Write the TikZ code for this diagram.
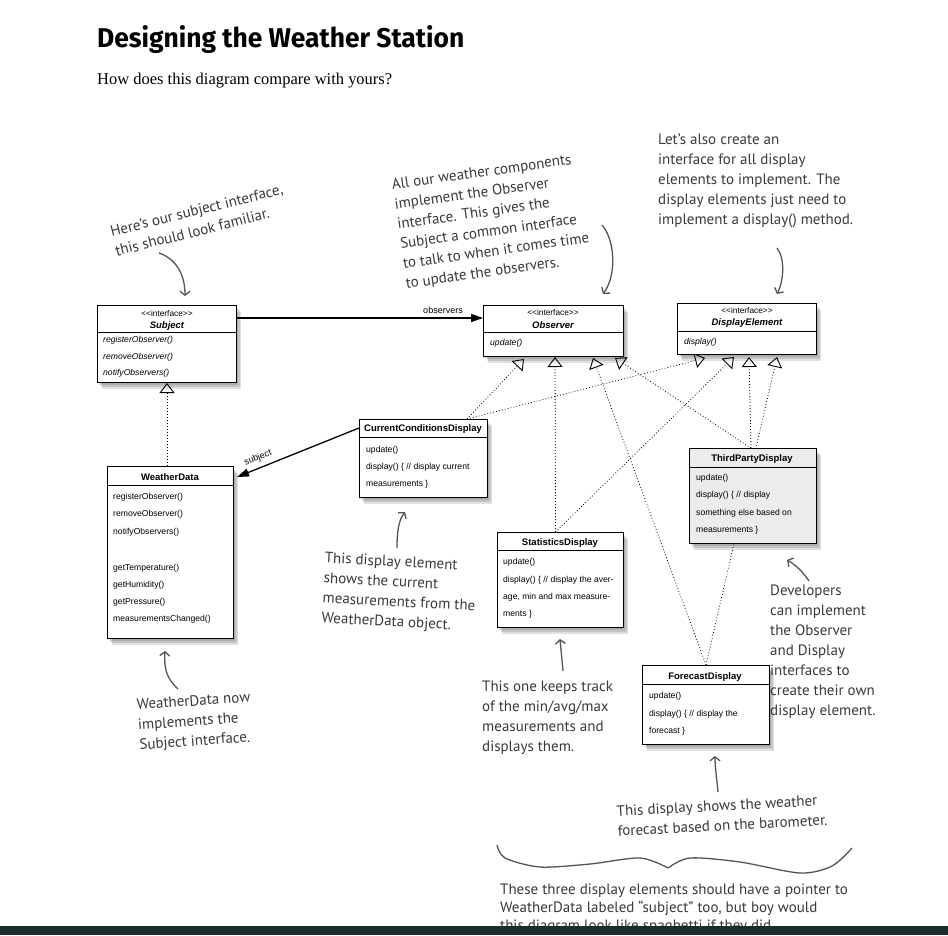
\documentclass[tikz,border=0pt]{standalone}
\usepackage{fontspec}
\usepackage{graphicx}
\setmainfont{Liberation Serif}
\setsansfont{Liberation Sans}
\newfontfamily\hand{PT Sans}
\newfontfamily\titlefont{Fira Sans}
\usetikzlibrary{arrows.meta,shadows,calc}
\definecolor{notegray}{HTML}{3A3A3A}
\definecolor{arrgray}{HTML}{555555}
\definecolor{tpfill}{HTML}{ECECEC}
\definecolor{barcol}{HTML}{1C2B2B}
\pgfdeclarelayer{bg}
\pgfdeclarelayer{lines}
\pgfsetlayers{bg,lines,main}
\begin{document}
\begin{tikzpicture}[x=1pt,y=-1pt,
 cls/.style={draw=black,line width=1pt,fill=white,anchor=north west,inner sep=0pt,
   general shadow={fill=black,opacity=0.12,shadow xshift=1.5pt,shadow yshift=-2pt},
   general shadow={fill=black,opacity=0.12,shadow xshift=3pt,shadow yshift=-4pt},
   general shadow={fill=black,opacity=0.12,shadow xshift=4.5pt,shadow yshift=-6pt}},
 sepline/.style={line width=0.8pt},
 stereo/.style={font=\sffamily\fontsize{8.3}{9}\selectfont,inner sep=0pt},
 iname/.style={font=\sffamily\bfseries\itshape\fontsize{9.5}{11}\selectfont,inner sep=0pt},
 cname/.style={font=\sffamily\bfseries\fontsize{9.5}{11}\selectfont,inner sep=0pt},
 imeth/.style={font=\sffamily\itshape\fontsize{8.6}{10}\selectfont,inner sep=0pt,anchor=west},
 meth/.style={font=\sffamily\fontsize{8.6}{10}\selectfont,inner sep=0pt,anchor=west},
 lbl/.style={font=\sffamily\fontsize{9}{10}\selectfont,inner sep=0pt},
 realize/.style={line width=0.8pt,dash pattern=on 0.8pt off 2.2pt,
   -{Triangle[width=15pt,length=10pt,fill=white,line width=0.9pt]}},
 assoc/.style={line width=1.3pt,-{Triangle[width=8pt,length=12pt]}},
 note/.style={font=\hand\fontsize{15}{20}\selectfont,text=notegray,align=left,inner sep=0pt},
 noteArrow/.style={draw=arrgray,line width=1.3pt,-{Straight Barb[length=4pt,width=10pt,line width=1.3pt]}},
]
\useasboundingbox (0,0) rectangle (948,935);
\begin{pgfonlayer}{bg}
\fill[white] (0,0) rectangle (948,935);
\end{pgfonlayer}

% ---------- title ----------
\node[anchor=base west,inner sep=0pt] (title) at (97,47)
  {\resizebox{367pt}{22pt}{\titlefont\bfseries Designing the Weather Station}};
\node[anchor=base west,inner sep=0pt] (subtitle) at (97,84)
  {\resizebox{295pt}{!}{\rmfamily How does this diagram compare with yours?}};

% ---------- class boxes ----------
\node[cls,minimum width=139pt,minimum height=77pt] (subj) at (97,305) {};
\node[cls,minimum width=140pt,minimum height=51pt] (obs) at (483,305) {};
\node[cls,minimum width=139pt,minimum height=51pt] (disp) at (677,303) {};
\node[cls,minimum width=128pt,minimum height=78pt] (ccd) at (359,419) {};
\node[cls,minimum width=126pt,minimum height=172pt] (wd) at (107,466) {};
\node[cls,minimum width=126pt,minimum height=95pt] (stats) at (497,532) {};
\node[cls,fill=tpfill,minimum width=127pt,minimum height=95pt] (third) at (689,448) {};
\node[cls,minimum width=127pt,minimum height=79pt] (fore) at (642,665) {};

% separators
\draw[sepline] ([yshift=-27pt]subj.north west) -- ([yshift=-27pt]subj.north east);
\draw[sepline] ([yshift=-27pt]obs.north west) -- ([yshift=-27pt]obs.north east);
\draw[sepline] ([yshift=-28pt]disp.north west) -- ([yshift=-28pt]disp.north east);
\draw[sepline] ([yshift=-18pt]ccd.north west) -- ([yshift=-18pt]ccd.north east);
\draw[sepline] ([yshift=-19pt]wd.north west) -- ([yshift=-19pt]wd.north east);
\draw[sepline] ([yshift=-18pt]stats.north west) -- ([yshift=-18pt]stats.north east);
\draw[sepline] ([yshift=-19pt]third.north west) -- ([yshift=-19pt]third.north east);
\draw[sepline] ([yshift=-19pt]fore.north west) -- ([yshift=-19pt]fore.north east);

% Subject
\node[stereo] (subjSt) at (167,314) {<{}<interface>{}>};
\node[iname] (subjName) at (167,326) {Subject};
\node[imeth] (subjM1) at (103,340) {registerObserver()};
\node[imeth] (subjM2) at (103,357) {removeObserver()};
\node[imeth] (subjM3) at (103,373) {notifyObservers()};
% Observer
\node[stereo] (obsSt) at (553,313) {<{}<interface>{}>};
\node[iname] (obsName) at (553,325) {Observer};
\node[imeth] (obsM1) at (490,343) {update()};
% DisplayElement
\node[stereo] (dispSt) at (747,311) {<{}<interface>{}>};
\node[iname] (dispName) at (747,323) {DisplayElement};
\node[imeth] (dispM1) at (684,342) {display()};
% CurrentConditionsDisplay
\node[cname] (ccdName) at (423,429) {CurrentConditionsDisplay};
\node[meth] (ccdM1) at (366,450) {update()};
\node[meth] (ccdM2) at (366,467) {display() \{ // display current};
\node[meth] (ccdM3) at (366,484) {measurements \}};
% WeatherData
\node[cname] (wdName) at (170,477) {WeatherData};
\node[meth] (wdM1) at (113,497) {registerObserver()};
\node[meth] (wdM2) at (113,514) {removeObserver()};
\node[meth] (wdM3) at (113,532) {notifyObservers()};
\node[meth] (wdM4) at (113,568) {getTemperature()};
\node[meth] (wdM5) at (113,585) {getHumidity()};
\node[meth] (wdM6) at (113,602) {getPressure()};
\node[meth] (wdM7) at (113,619) {measurementsChanged()};
% StatisticsDisplay
\node[cname] (statsName) at (560,543) {StatisticsDisplay};
\node[meth] (statsM1) at (503,562) {update()};
\node[meth] (statsM2) at (503,580) {display() \{ // display the aver-};
\node[meth] (statsM3) at (503,597) {age, min and max measure-};
\node[meth] (statsM4) at (503,614) {ments \}};
% ThirdPartyDisplay
\node[cname] (thirdName) at (752,459) {ThirdPartyDisplay};
\node[meth] (thirdM1) at (696,478) {update()};
\node[meth] (thirdM2) at (696,495) {display() \{ // display};
\node[meth] (thirdM3) at (696,513) {something else based on};
\node[meth] (thirdM4) at (696,530) {measurements \}};
% ForecastDisplay
\node[cname] (foreName) at (705,677) {ForecastDisplay};
\node[meth] (foreM1) at (649,696) {update()};
\node[meth] (foreM2) at (649,714) {display() \{ // display the};
\node[meth] (foreM3) at (649,731) {forecast \}};

% ---------- realization connectors (behind boxes) ----------
\coordinate (sT) at (167,383);
\coordinate (oT1) at (524,359);
\coordinate (oT2) at (555,357);
\coordinate (oT3) at (593,358);
\coordinate (oT4) at (615,358);
\coordinate (dT1) at (705,358);
\coordinate (dT2) at (734,357);
\coordinate (dT3) at (749,357);
\coordinate (dT4) at (777,357);
\coordinate (ccdTop) at ([xshift=-21pt]ccd.north east);
\coordinate (statsTop) at ([xshift=-5pt]stats.north);
\coordinate (thirdTop) at ([xshift=-2pt]third.north);
\begin{pgfonlayer}{lines}
\draw[realize] (wd.north -| sT) -- (sT);
\draw[realize] (ccdTop) -- (oT1);
\draw[realize] (ccdTop) -- (dT1);
\draw[realize] (statsTop) -- (oT2);
\draw[realize] (statsTop) -- (dT2);
\draw[realize] (fore.north) -- (oT3);
\draw[realize] (fore.north) -- (dT4);
\draw[realize] (thirdTop) -- (oT4);
\draw[realize] (thirdTop) -- (dT3);
\end{pgfonlayer}

% ---------- associations ----------
\draw[assoc] ([yshift=-13pt]subj.north east) -- ([yshift=-13pt]obs.north west);
\node[lbl] (obsLbl) at (443,310) {observers};
\draw[assoc] ([yshift=-9pt]ccd.north west) -- ([xshift=3pt,yshift=-11pt]wd.north east);
\node[lbl,rotate=22] (subjLbl) at (258,458) {subject};

% ---------- notes ----------
\node[note,rotate=14] (nSubj) at (199,220) {Here’s our subject interface,\\this should look familiar.};
\node[note,rotate=8] (nObs) at (492,222) {All our weather components\\implement the Observer\\interface. This gives the\\Subject a common interface\\to talk to when it comes time\\to update the observers.};
\node[note,anchor=west] (nDisp) at (658,181) {Let’s also create an\\interface for all display\\elements to implement. The\\display elements just need to\\implement a display() method.};
\node[note,anchor=west,rotate=-3] (nCcd) at (323,589) {This display element\\shows the current\\measurements from the\\WeatherData object.};
\node[note,anchor=west,rotate=4] (nWd) at (138,726) {WeatherData now\\implements the\\Subject interface.};
\node[note,anchor=west] (nStats) at (482,718) {This one keeps track\\of the min/avg/max\\measurements and\\displays them.};
\node[note,anchor=west] (nDev) at (770,652) {Developers\\can implement\\the Observer\\and Display\\interfaces to\\create their own\\display element.};
\node[note,anchor=west,rotate=3] (nFore) at (617,821) {This display shows the weather\\forecast based on the barometer.};
\node[note,anchor=north west,font=\hand\fontsize{15}{18}\selectfont] (nBottom) at (500,884) {These three display elements should have a pointer to\\WeatherData labeled “subject” too, but boy would\\this diagram look like spaghetti if they did.};

% note arrows
\coordinate (a1s) at (159,253); \coordinate (a1e) at (185,296);
\draw[noteArrow] (a1s) .. controls (174,258) and (185,272) .. (a1e);
\coordinate (a2s) at (602,225); \coordinate (a2e) at (603,294);
\draw[noteArrow] (a2s) .. controls (615,240) and (617,275) .. (a2e);
\coordinate (a3s) at (777,248); \coordinate (a3e) at (777,294);
\draw[noteArrow] (a3s) .. controls (785,258) and (784,280) .. (a3e);
\coordinate (a4s) at (397,548); \coordinate (a4e) at (405,512);
\draw[noteArrow] (a4s) .. controls (397,530) and (399,520) .. (a4e);
\coordinate (a5s) at (178,689); \coordinate (a5e) at (165,651);
\draw[noteArrow] (a5s) .. controls (166,678) and (164,668) .. (a5e);
\coordinate (a6s) at (563,671); \coordinate (a6e) at (560,639);
\draw[noteArrow] (a6s) .. controls (562,660) and (561,650) .. (a6e);
\coordinate (a7s) at (809,581); \coordinate (a7e) at (787,560);
\draw[noteArrow] (a7s) .. controls (803,572) and (796,565) .. (a7e);
\coordinate (a8s) at (718,792); \coordinate (a8e) at (715,756);
\draw[noteArrow] (a8s) .. controls (717,780) and (715,768) .. (a8e);

% brace
\draw[arrgray,line width=1.3pt] plot[smooth] coordinates {(497,845) (505,858) (540,867) (590,864) (640,858) (668,868)};
\draw[arrgray,line width=1.3pt] plot[smooth] coordinates {(668,868) (690,858) (740,862) (800,873) (832,866) (852,848)};

% bottom bar
\fill[barcol] (0,926) rectangle (948,935);
\end{tikzpicture}
\end{document}
